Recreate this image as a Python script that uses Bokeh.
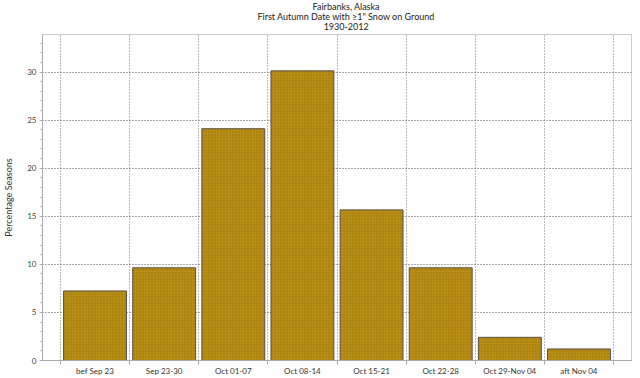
from bokeh.plotting import figure
from bokeh.layouts import column
from bokeh.models import FixedTicker, Range1d
from bokeh.core.properties import value
from bokeh.embed import file_html
from bokeh.resources import INLINE

categories = ["bef Sep 23", "Sep 23-30", "Oct 01-07", "Oct 08-14",
              "Oct 15-21", "Oct 22-28", "Oct 29-Nov 04", "aft Nov 04"]
percent = [7.23, 9.64, 24.10, 30.12, 15.66, 9.64, 2.41, 1.20]
y_ticks = [0, 5, 10, 15, 20, 25, 30]
title_lines = ["Fairbanks, Alaska", "First Autumn Date with \u22651\" Snow on Ground", "1930-2012"]

FONT = "Lato"
n = len(categories)
centers = [i + 0.5 for i in range(n)]

# ---- title strip (three centred lines) ----
t = figure(width=640, height=34, output_backend="svg", toolbar_location=None,
           x_range=Range1d(0, 640), y_range=Range1d(34, 0),
           min_border=0, outline_line_color=None)
t.axis.visible = False
t.grid.visible = False
t.text(x=[330] * len(title_lines), y=[6, 16, 26], text=title_lines,
       text_align="center", text_baseline="middle",
       text_font=value(FONT), text_font_size="9px", text_color="#222222")

# ---- main chart ----
p = figure(width=640, height=344, output_backend="svg", toolbar_location=None,
           x_range=Range1d(-0.26, n + 0.26), y_range=Range1d(0, 33.9),
           min_border_left=42, min_border_right=9, min_border_top=0, min_border_bottom=16)

p.vbar(x=centers, top=percent, width=0.91, bottom=0,
       fill_color="#b88e16", line_color="#5a5040", line_width=1,
       hatch_pattern="dot", hatch_color="#7a5806", hatch_scale=3, hatch_alpha=0.5)

# x axis
xa = p.xaxis[0]
xa.ticker = FixedTicker(ticks=centers, minor_ticks=list(range(n + 1)))
xa.major_label_overrides = {c: lab for c, lab in zip(centers, categories)}
xa.major_tick_line_color = None
xa.major_tick_out = 0
xa.major_tick_in = 0
xa.minor_tick_out = 4
xa.minor_tick_in = 0
xa.minor_tick_line_color = "#aaaaaa"
xa.axis_line_color = "#aaaaaa"
xa.major_label_text_font = FONT
xa.major_label_text_font_size = "8px"
xa.major_label_text_color = "#333333"
xa.major_label_standoff = 1

# y axis
ya = p.yaxis[0]
ya.ticker = FixedTicker(ticks=y_ticks, minor_ticks=list(range(0, 34)))
ya.axis_label = "Percentage Seasons"
ya.axis_label_text_font = FONT
ya.axis_label_text_font_size = "9px"
ya.axis_label_text_font_style = "normal"
ya.axis_label_text_color = "#333333"
ya.axis_label_standoff = 10
ya.major_label_text_font = FONT
ya.major_label_text_font_size = "8px"
ya.major_label_text_color = "#444444"
ya.major_tick_out = 3
ya.major_tick_in = 0
ya.minor_tick_out = 2
ya.minor_tick_in = 0
ya.major_tick_line_color = "#aaaaaa"
ya.minor_tick_line_color = "#aaaaaa"
ya.axis_line_color = "#aaaaaa"
ya.major_label_standoff = 3

# grids
p.xgrid.ticker = FixedTicker(ticks=list(range(n + 1)))
p.xgrid.grid_line_color = "#777777"
p.xgrid.grid_line_dash = "1 2"
p.ygrid.ticker = FixedTicker(ticks=y_ticks)
p.ygrid.grid_line_color = "#555555"
p.ygrid.grid_line_dash = "1 2"

p.outline_line_color = "#cccccc"
p.background_fill_color = "white"
p.border_fill_color = "white"

open("out.html", "w").write(file_html(column(t, p, spacing=0), INLINE))
